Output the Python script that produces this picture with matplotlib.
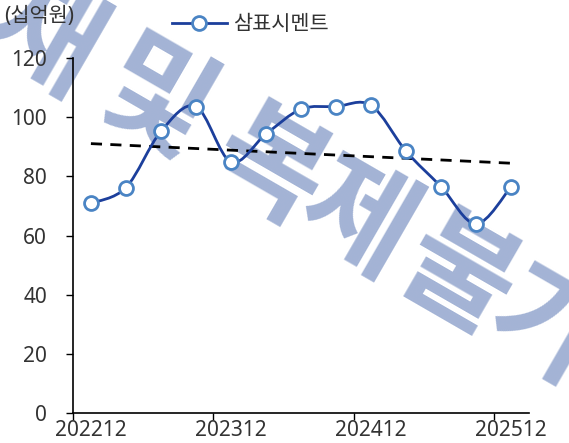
import numpy as np
import matplotlib
matplotlib.use('Agg')
import matplotlib.pyplot as plt
from matplotlib.path import Path
from matplotlib.patches import PathPatch

# 분기별 데이터 (십억원)
quarters = ['202212', '202303', '202306', '202309', '202312', '202403', '202406',
            '202409', '202412', '202503', '202506', '202509', '202512']
sales = [70.9, 76.2, 95.2, 103.6, 84.9, 94.3, 102.7, 103.6, 104.0, 88.5, 76.5, 63.9, 76.5]
tick_labels = ['202212', '202312', '202412', '202512']
series_name = '삼표시멘트'
unit_label = '(십억원)'
wm_chars = ['전', '재', '및', '복', '제', '불', '가']

plt.rcParams['font.family'] = ['Noto Sans', 'Noto Sans CJK KR', 'DejaVu Sans']

LINE_C = '#1c3f9c'
EDGE_C = '#4a84c4'
TXT_C = '#333333'
W, H = 569, 443

fig = plt.figure(figsize=(W / 100, H / 100), dpi=100)
ax = fig.add_axes([0.129, 0.0677, 0.80, 0.8013])

# watermark: one glyph at a time along a 30 degree line (pixel offsets from '및')
wm_steps = [-234, -128, 0, 132, 234, 350, 452]
ang = np.deg2rad(30)
for ch, s in zip(wm_chars, wm_steps):
    px = 154 + s * np.cos(ang)
    py = 104 + s * np.sin(ang)
    ax.text(px / W, 1 - py / H, ch, transform=fig.transFigure, fontsize=86,
            fontweight='bold', color='#a3b3d5', rotation=-30, rotation_mode='anchor',
            ha='center', va='center', zorder=0, clip_on=False,
            family=['Noto Sans CJK KR'])

x = np.arange(len(quarters))
y = np.array(sales)

# smoothed line (Excel style bezier through the points)
pts = np.column_stack([x, y])
verts = [pts[0]]
codes = [Path.MOVETO]
for i in range(len(pts) - 1):
    p0 = pts[i - 1] if i > 0 else pts[i]
    p1, p2 = pts[i], pts[i + 1]
    p3 = pts[i + 2] if i + 2 < len(pts) else pts[i + 1]
    c1 = p1 + (p2 - p0) / 6
    c2 = p2 - (p3 - p1) / 6
    verts += [c1, c2, p2]
    codes += [Path.CURVE4] * 3
ax.add_patch(PathPatch(Path(verts, codes), fill=False, edgecolor=LINE_C, lw=2, zorder=3))

# trend line
k, b = np.polyfit(x, y, 1)
ax.plot(x[[0, -1]], k * x[[0, -1]] + b, '--', color='black', lw=2, dashes=(4, 3), zorder=2)

ax.plot(x, y, 'o', color=LINE_C, markerfacecolor='white', markeredgecolor=EDGE_C,
        markersize=10, markeredgewidth=2, zorder=4)
# legend proxy
ax.plot([], [], 'o-', color=LINE_C, lw=2, markerfacecolor='white',
        markeredgecolor=EDGE_C, markersize=10, markeredgewidth=2, label=series_name)

ax.set_xlim(-0.5, len(quarters) - 0.5)
ax.set_ylim(0, 120)
ax.set_yticks(range(0, 121, 20))
# tick marks between categories, labels on categories
ax.set_xticks([-0.5, 3.5, 7.5, 11.5])
ax.set_xticklabels([])
ax.set_xticks([0, 4, 8, 12], minor=True)
ax.set_xticklabels(tick_labels, minor=True)
ax.tick_params(axis='x', which='minor', length=0, labelsize=15, labelcolor=TXT_C, pad=5)
ax.tick_params(axis='x', which='major', length=5, width=1)
ax.tick_params(axis='y', labelsize=15, length=5, width=1, labelcolor=TXT_C, pad=14)
for s in ['top', 'right']:
    ax.spines[s].set_visible(False)
for s in ['left', 'bottom']:
    ax.spines[s].set_linewidth(1.2)
ax.patch.set_alpha(0)

fig.text(0.008, 0.962, unit_label, fontsize=15, color=TXT_C, va='center', ha='left')
fig.legend(loc='center', bbox_to_anchor=(0.44, 0.945), frameon=False, fontsize=15,
           handlelength=2.6, handletextpad=0.3, labelcolor=TXT_C)

fig.savefig('out.png', dpi=100)
